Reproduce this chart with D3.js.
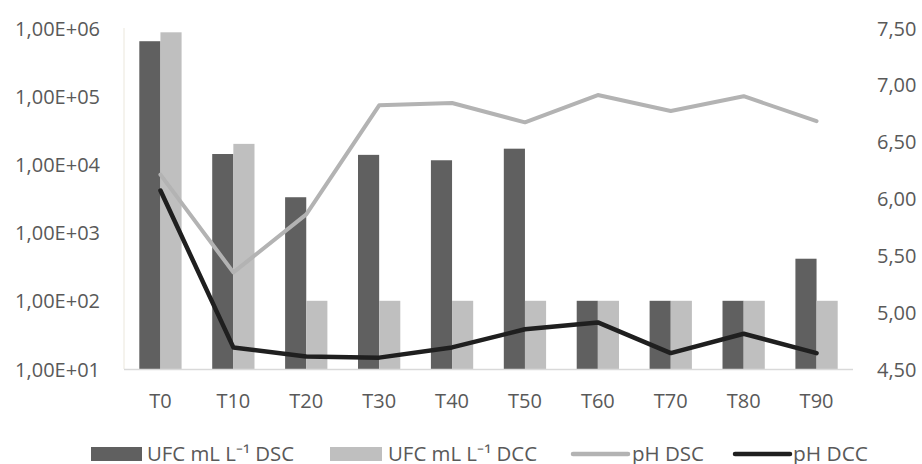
<!DOCTYPE html>
<html><head><meta charset="utf-8">
<script src="https://cdn.jsdelivr.net/npm/d3@7"></script>
<style>body{margin:0;background:#fff}svg{display:block}</style>
</head><body>
<svg id="c" width="922" height="464"></svg>
<script>
const categories = ["T0","T10","T20","T30","T40","T50","T60","T70","T80","T90"];
const ufcDSC = [640000, 14200, 3300, 13800, 11500, 17000, 100, 100, 100, 414];
const ufcDCC = [865000, 20000, 100, 100, 100, 100, 100, 100, 100, 100];
const phDSC = [6.21, 5.35, 5.86, 6.82, 6.84, 6.67, 6.91, 6.77, 6.90, 6.68];
const phDCC = [6.07, 4.69, 4.61, 4.60, 4.69, 4.85, 4.91, 4.64, 4.81, 4.64];
const leftTicks = [1e1, 1e2, 1e3, 1e4, 1e5, 1e6];
const leftTickLabels = ["1,00E+01","1,00E+02","1,00E+03","1,00E+04","1,00E+05","1,00E+06"];
const rightTicks = [4.5, 5.0, 5.5, 6.0, 6.5, 7.0, 7.5];
const rightTickLabels = ["4,50","5,00","5,50","6,00","6,50","7,00","7,50"];
const legendLabels = ["UFC mL L\u207B\u00B9 DSC","UFC mL L\u207B\u00B9 DCC","pH DSC","pH DCC"];

const svg = d3.select("#c");
const L = 124, R = 853, T = 28, B = 369;
const font = "'Open Sans', sans-serif";
const txt = "#595959";
const cDark = "#606060", cLight = "#bfbfbf", lDSC = "#b3b3b3", lDCC = "#1f1f1f";

const x = d3.scaleBand().domain(categories).range([L, R]).paddingInner(0.42).paddingOuter(0.21);
const xc = d3.scaleBand().domain(categories).range([L, R]);
const yL = d3.scaleLog().domain([10, 1e6]).range([B, T]);
const yR = d3.scaleLinear().domain([4.5, 7.5]).range([B, T]);
const sub = d3.scaleBand().domain([0,1]).range([0, x.bandwidth()]);

svg.append("line").attr("x1", L).attr("x2", L).attr("y1", T).attr("y2", B).attr("stroke", "#ebe7dc").attr("stroke-width", 1);

const g = svg.append("g");
categories.forEach((c, i) => {
  g.append("rect").attr("x", x(c) + sub(0)).attr("width", sub.bandwidth())
    .attr("y", yL(ufcDSC[i])).attr("height", B - yL(ufcDSC[i])).attr("fill", cDark);
  g.append("rect").attr("x", x(c) + sub(1)).attr("width", sub.bandwidth())
    .attr("y", yL(ufcDCC[i])).attr("height", B - yL(ufcDCC[i])).attr("fill", cLight);
});
svg.append("line").attr("x1", L).attr("x2", R).attr("y1", B + 0.5).attr("y2", B + 0.5).attr("stroke", "#d9d9d9").attr("stroke-width", 1.3);

const line = d3.line().x((d, i) => xc(categories[i]) + xc.bandwidth() / 2).y(d => yR(d));
svg.append("path").datum(phDSC).attr("d", line).attr("fill", "none").attr("stroke", lDSC).attr("stroke-width", 4).attr("stroke-linejoin", "round").attr("stroke-linecap", "round");
svg.append("path").datum(phDCC).attr("d", line).attr("fill", "none").attr("stroke", lDCC).attr("stroke-width", 4.5).attr("stroke-linejoin", "round").attr("stroke-linecap", "round");

const fs = 20;
const ax = d3.axisLeft(yL).tickValues(leftTicks).tickFormat((d, i) => leftTickLabels[i]).tickSize(0).tickPadding(0);
const gl = svg.append("g").attr("transform", `translate(100,0)`).call(ax);
gl.select(".domain").remove();
gl.selectAll("text").attr("font-family", font).attr("font-size", fs).attr("fill", txt).attr("dy", "0.35em");

const axR = d3.axisRight(yR).tickValues(rightTicks).tickFormat((d, i) => rightTickLabels[i]).tickSize(0).tickPadding(0);
const gr = svg.append("g").attr("transform", `translate(877,0)`).call(axR);
gr.select(".domain").remove();
gr.selectAll("text").attr("font-family", font).attr("font-size", fs).attr("fill", txt).attr("dy", "0.35em");

const axB = d3.axisBottom(xc).tickSize(0).tickPadding(0);
const gb = svg.append("g").attr("transform", `translate(0,401)`).call(axB);
gb.select(".domain").remove();
gb.selectAll("text").attr("font-family", font).attr("font-size", fs).attr("fill", txt).attr("dy", "0.35em");

const ly = 454;
const leg = svg.append("g").attr("font-family", font).attr("font-size", fs).attr("fill", txt);
leg.append("rect").attr("x", 91).attr("y", ly - 7).attr("width", 51).attr("height", 14).attr("fill", cDark);
leg.append("text").attr("x", 147).attr("y", ly).attr("dy", "0.35em").attr("textLength", 147).attr("lengthAdjust", "spacingAndGlyphs").text(legendLabels[0]);
leg.append("rect").attr("x", 330).attr("y", ly - 7).attr("width", 52).attr("height", 14).attr("fill", cLight);
leg.append("text").attr("x", 388).attr("y", ly).attr("dy", "0.35em").attr("textLength", 149).attr("lengthAdjust", "spacingAndGlyphs").text(legendLabels[1]);
leg.append("line").attr("x1", 573).attr("x2", 628).attr("y1", ly).attr("y2", ly).attr("stroke", lDSC).attr("stroke-width", 4.5).attr("stroke-linecap", "round");
leg.append("text").attr("x", 632).attr("y", ly).attr("dy", "0.35em").attr("textLength", 72).attr("lengthAdjust", "spacingAndGlyphs").text(legendLabels[2]);
leg.append("line").attr("x1", 735).attr("x2", 790).attr("y1", ly).attr("y2", ly).attr("stroke", lDCC).attr("stroke-width", 4.5).attr("stroke-linecap", "round");
leg.append("text").attr("x", 793).attr("y", ly).attr("dy", "0.35em").attr("textLength", 75).attr("lengthAdjust", "spacingAndGlyphs").text(legendLabels[3]);
</script>
</body></html>
